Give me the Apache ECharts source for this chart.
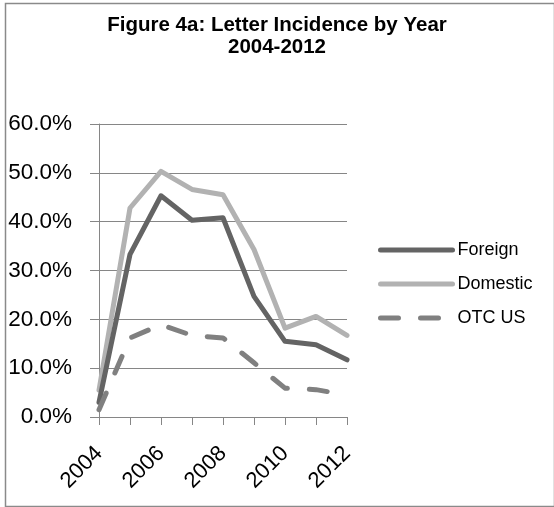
<!DOCTYPE html>
<html>
<head>
<meta charset="utf-8">
<script src="https://cdn.jsdelivr.net/npm/echarts@6/dist/echarts.min.js"></script>
<style>
html,body{margin:0;padding:0;background:#fff;}
#c{width:554px;height:507px;}
</style>
</head>
<body>
<div id="c"></div>
<script>
var years = ['2004','2005','2006','2007','2008','2009','2010','2011','2012'];
var foreign = [0.030, 0.333, 0.453, 0.403, 0.408, 0.247, 0.155, 0.148, 0.117];
var domestic = [0.055, 0.428, 0.503, 0.466, 0.455, 0.343, 0.182, 0.206, 0.167];
var otcUS = [0.015, 0.162, 0.189, 0.167, 0.162, 0.111, 0.059, 0.056, 0.045];
var yTicks = [0, 0.1, 0.2, 0.3, 0.4, 0.5, 0.6];

var chart = echarts.init(document.getElementById('c'), null, {renderer:'canvas'});
var font = '"Liberation Sans", Arial, sans-serif';
chart.setOption({
  animation: false,
  backgroundColor: '#fff',
  graphic: [{
    type: 'rect', left: 3, top: 1,
    shape: {width: 549, height: 503},
    style: {fill: 'none', stroke: '#8a8a8a', lineWidth: 1.5},
    z: 100
  }],
  title: {
    text: 'Figure 4a: Letter Incidence by Year\n2004-2012',
    left: 'center', top: 9,
    textStyle: {fontFamily: font, fontWeight: 'bold', fontSize: 20.5, lineHeight: 22, color: '#000'}
  },
  legend: {
    orient: 'vertical', left: 378, top: 241, padding: 0,
    itemWidth: 72, itemHeight: 6, itemGap: 16,
    itemStyle: {opacity: 0},
    lineStyle: {width: 5, cap: 'round'},
    textStyle: {fontFamily: font, fontSize: 18, lineHeight: 18, color: '#000'},
    data: ['Foreign', 'Domestic', 'OTC US']
  },
  grid: {left: 99, right: 207, top: 124, bottom: 90, containLabel: false},
  xAxis: {
    type: 'category', data: years, boundaryGap: false,
    axisLine: {lineStyle: {color: '#868686', width: 1}},
    axisTick: {show: true, interval: 0, length: 8, lineStyle: {color: '#868686'}},
    axisLabel: {interval: 1, rotate: 45, margin: 33, fontFamily: font, fontSize: 22, color: '#000'},
    splitLine: {show: false}
  },
  yAxis: {
    type: 'value', min: yTicks[0], max: yTicks[yTicks.length-1], interval: 0.1,
    axisLine: {show: true, lineStyle: {color: '#868686', width: 1}},
    axisTick: {show: true, length: 9, lineStyle: {color: '#868686'}},
    axisLabel: {margin: 27, fontFamily: font, fontSize: 22.5, color: '#000',
      formatter: function(v){ return (v*100).toFixed(1) + '%'; }},
    splitLine: {show: true, lineStyle: {color: '#868686', width: 1}}
  },
  series: [
    {name: 'Foreign', type: 'line', data: foreign, symbol: 'none', color: '#646464',
     lineStyle: {width: 5, color: '#646464', cap: 'round', join: 'round'}, z: 3},
    {name: 'Domestic', type: 'line', data: domestic, symbol: 'none', color: '#b2b2b2',
     lineStyle: {width: 5, color: '#b2b2b2', cap: 'round', join: 'round'}, z: 2},
    {name: 'OTC US', type: 'line', data: otcUS, symbol: 'none', color: '#808080',
     lineStyle: {width: 5, color: '#808080', type: [18, 22], cap: 'round', join: 'round'}, z: 4}
  ]
});
</script>
</body>
</html>
